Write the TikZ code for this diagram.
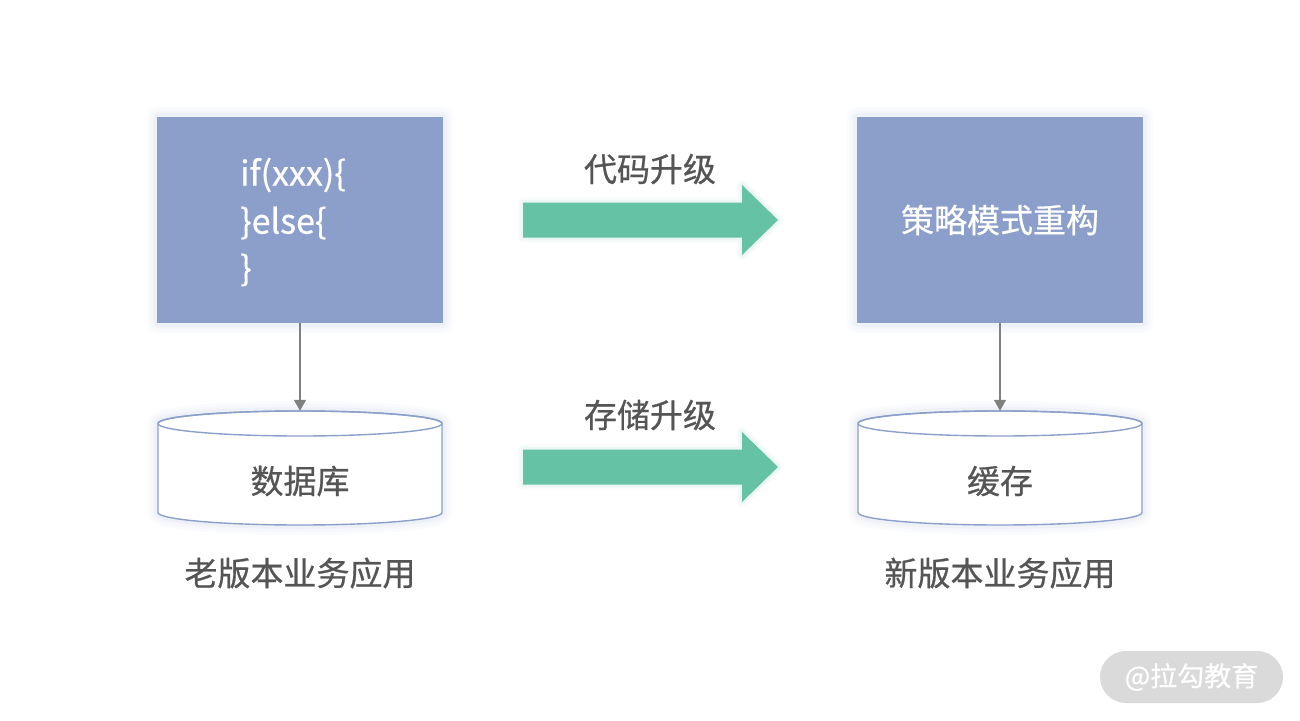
\documentclass[tikz,border=0pt]{standalone}
\usepackage{fontspec}
\setmainfont{Noto Sans CJK SC}[FakeBold=0.6]
\usetikzlibrary{arrows.meta}
\definecolor{boxblue}{HTML}{8C9FCA}
\definecolor{upgreen}{HTML}{66C2A5}
\definecolor{txtgray}{HTML}{555555}
\definecolor{lingray}{HTML}{808080}
\definecolor{wmgray}{HTML}{DADADA}
\definecolor{glowc}{HTML}{8C9FCA}
\tikzset{
  glow/.style={preaction={draw=glowc,line width=20pt,draw opacity=0.035,line join=round},
               preaction={draw=glowc,line width=14pt,draw opacity=0.045,line join=round},
               preaction={draw=glowc,line width=8pt,draw opacity=0.06,line join=round}},
  greenglow/.style={preaction={draw=upgreen,line width=10pt,draw opacity=0.05,line join=round},
               preaction={draw=upgreen,line width=5pt,draw opacity=0.07,line join=round}},
  appbox/.style={fill=boxblue,draw=none,minimum width=286,minimum height=206,inner sep=0pt,text=white,glow},
  dbhold/.style={minimum width=284,minimum height=114,inner sep=0pt,draw=none},
  cyl/.style={draw=boxblue,line width=1.4pt,fill=white,line join=round},
  label/.style={text=txtgray,font=\fontsize{33}{36}\selectfont},
  code/.style={text=white,font=\fontsize{34}{38}\selectfont,anchor=west,inner sep=0pt},
  flow/.style={draw=lingray,line width=1.3pt,-{Triangle[width=12pt,length=11pt]}},
  bigarrow/.style={fill=upgreen,draw=none,greenglow}
}
\begin{document}
\begin{tikzpicture}[x=1pt,y=-1pt]
\useasboundingbox[fill=white] (0,0) rectangle (1300,720);
% boxes
\node[appbox] (oldbox) at (300,220) {};
\node[appbox,font=\fontsize{33}{36}\selectfont] (newbox) at (1000,220) {策略模式重构};
\node[code] (c1) at (240,175) {if(xxx)\{};
\node[code] (c2) at (240,223) {\}else\{};
\node[code] (c3) at (240,270) {\}};
% cylinders
\foreach \cx/\nm in {300/olddb,1000/newdb}{
  \node[dbhold] (\nm) at (\cx,468) {};
  \path[cyl,glow] (\cx-142,423.5) -- (\cx-142,512.5) arc[start angle=180,end angle=0,x radius=142,y radius=12.5]
     -- (\cx+142,423.5) arc[start angle=360,end angle=180,x radius=142,y radius=12.5] -- cycle;
  \draw[cyl,fill=none] (\cx-142,423.5) arc[start angle=180,end angle=540,x radius=142,y radius=12.5];
}
\node[label] (dbtxt) at (300,481) {数据库};
\node[label] (cachetxt) at (1000,481) {缓存};
% connectors
\draw[flow] (oldbox.south) -- (olddb.north);
\draw[flow] (newbox.south) -- (newdb.north);
% big arrows
\foreach \cy in {220,467}{
  \path[bigarrow] (523,\cy-17.5) -- (742,\cy-17.5) -- (742,\cy-35) -- (778,\cy) -- (742,\cy+35) -- (742,\cy+17.5) -- (523,\cy+17.5) -- cycle;
}
\node[label] (codeup) at (650,169) {代码升级};
\node[label] (storeup) at (650,415) {存储升级};
% captions
\node[label] (oldapp) at (300,573) {老版本业务应用};
\node[label] (newapp) at (1000,573) {新版本业务应用};
% watermark
\node[fill=wmgray,rounded corners=26pt,minimum width=183,minimum height=52,inner sep=0pt,text=white,font=\fontsize{27}{30}\selectfont] (wm) at (1191.5,677) {@拉勾教育};
\end{tikzpicture}
\end{document}
